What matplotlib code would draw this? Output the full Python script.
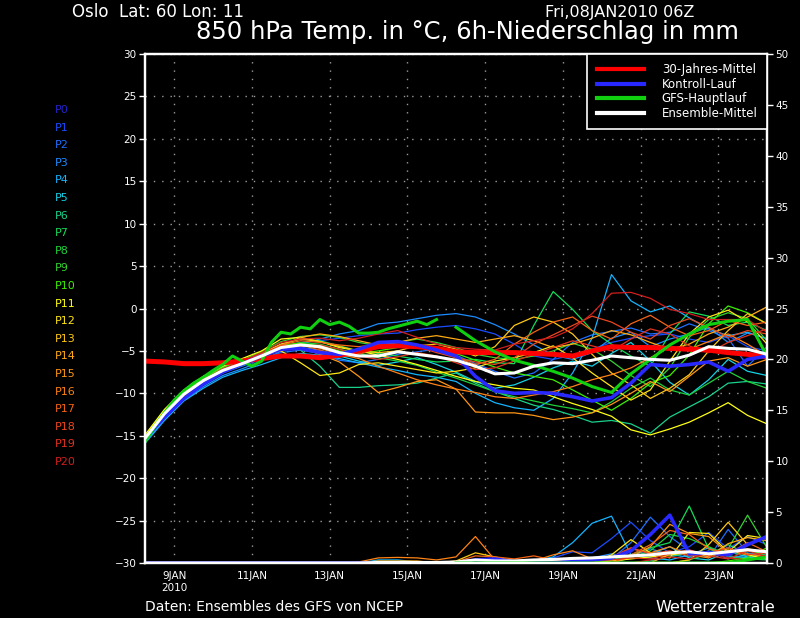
import matplotlib
matplotlib.use("Agg")
import matplotlib.pyplot as plt
from matplotlib.lines import Line2D
import pandas as pd

# time axes: ensemble every 12h, GFS main run 6h (hi-res) then 12h (lo-res)
times = pd.date_range("2010-01-08 06:00", "2010-01-24 06:00", freq="12h")
times_gfs_hi = pd.date_range("2010-01-08 06:00", "2010-01-15 18:00", freq="6h")
times_gfs_lo = pd.date_range("2010-01-16 06:00", "2010-01-24 06:00", freq="12h")

# 850 hPa temperature (deg C)
klima_t = [-6.2, -6.3, -6.5, -6.5, -6.4, -6.2, -5.9, -5.6, -5.6, -5.8, -5.5, -5.0, -4.5, -4.4, -4.5, -4.7, -5.1,
           -5.2, -5.2, -5.2, -5.3, -5.4, -5.6, -5.0, -4.5, -4.6, -4.6, -4.7, -4.8, -4.9, -5.2, -5.4, -5.7]
mittel_t = [-15.3, -12.4, -10.1, -8.5, -7.3, -6.5, -5.6, -4.6, -4.3, -4.5, -5.2, -5.6, -5.6, -5.1, -5.4, -5.7, -6.1,
            -6.8, -7.7, -7.6, -6.8, -6.4, -6.5, -6.1, -5.6, -5.8, -6.0, -6.1, -5.5, -4.5, -4.7, -4.8, -5.4]
gfs_t_hi = [-15.7, -13.9, -12.3, -10.8, -9.7, -8.8, -8.1, -7.3, -6.6, -5.6, -6.2, -6.8, -6.2, -4.0, -2.8, -3.0,
            -2.2, -2.4, -1.3, -1.9, -1.6, -2.1, -2.9, -2.9, -2.8, -2.4, -2.1, -1.8, -1.5, -1.9, -1.3]
gfs_t_lo = [-2.2, -3.8, -5.1, -6.1, -6.7, -7.4, -8.2, -9.2, -9.9, -7.7, -6.0, -4.3, -3.0, -1.9, -1.5, -1.3, -5.6]

t_p0 = [-15.3, -12.8, -10.6, -8.9, -7.5, -6.5, -5.6, -4.8, -4.7, -5.2, -5.4, -4.8, -4.0, -3.9, -4.3, -4.9, -5.6,
        -8.0, -9.7, -10.0, -9.9, -10.0, -10.4, -10.9, -10.5, -8.8, -6.6, -6.8, -6.6, -6.3, -7.4, -6.0, -5.6]
t_p1 = [-15.4, -12.6, -10.3, -8.6, -7.4, -6.5, -5.5, -4.6, -4.0, -3.8, -3.5, -3.2, -3.0, -2.9, -2.5, -2.2, -2.0,
        -2.4, -3.0, -4.2, -5.6, -6.0, -5.5, -4.8, -4.0, -3.5, -3.2, -3.0, -3.6, -4.0, -3.2, -4.5, -5.0]
t_p2 = [-15.6, -12.9, -10.6, -8.9, -7.6, -6.8, -6.0, -5.2, -4.9, -5.3, -6.1, -6.4, -6.0, -5.4, -5.1, -4.8, -5.5,
        -6.5, -7.4, -8.2, -7.6, -6.0, -4.0, -3.1, -2.7, -2.3, -3.0, -2.8, -1.8, -2.6, -3.5, -6.8, -4.5]
t_p3 = [-15.8, -13.0, -10.8, -9.2, -7.9, -7.1, -6.2, -5.0, -4.2, -3.6, -3.0, -2.6, -1.8, -1.6, -1.2, -0.8, -0.6,
        -1.0, -1.9, -3.0, -4.3, -5.5, -6.0, -5.2, -3.5, -2.8, -4.5, -3.6, -3.0, -2.2, -4.0, -2.9, -3.5]
t_p4 = [-15.9, -13.2, -10.9, -9.4, -8.1, -7.3, -6.6, -5.8, -5.3, -5.5, -5.9, -6.4, -6.9, -7.3, -7.8, -8.1, -8.6,
        -10.0, -11.1, -11.7, -12.0, -10.6, -7.6, -3.5, 4.0, 0.9, -0.4, 0.3, -1.1, -2.4, -3.2, -2.8, -3.6]
t_p5 = [-15.5, -12.6, -10.3, -8.7, -7.4, -6.6, -5.7, -4.9, -4.6, -4.9, -5.6, -6.2, -6.7, -6.3, -5.8, -6.6, -7.5,
        -8.6, -9.4, -9.0, -8.1, -7.0, -6.2, -6.8, -5.3, -4.0, -6.2, -8.7, -10.2, -8.4, -6.0, -7.4, -7.9]
t_p6 = [-15.2, -12.2, -9.9, -8.3, -7.1, -6.3, -5.4, -4.6, -4.9, -6.8, -9.3, -9.3, -9.1, -9.0, -8.8, -8.2, -7.6,
        -8.8, -9.8, -10.6, -11.4, -11.9, -12.6, -13.4, -13.2, -13.6, -14.7, -12.8, -11.6, -10.4, -8.8, -8.6, -8.9]
t_p7 = [-15.1, -12.1, -9.8, -8.2, -7.0, -6.2, -5.3, -4.2, -3.6, -3.8, -4.4, -5.0, -5.3, -5.6, -6.0, -6.3, -6.2,
        -6.0, -6.4, -6.5, -2.0, 2.0, -0.1, -2.6, -4.2, -5.6, -6.8, -3.0, -0.4, -0.9, -2.0, -1.6, -2.6]
t_p8 = [-15.3, -12.4, -10.1, -8.5, -7.3, -6.4, -5.5, -4.5, -4.0, -4.2, -4.8, -5.3, -5.8, -6.2, -6.7, -7.5, -8.2,
        -9.0, -9.8, -10.4, -10.9, -11.4, -11.8, -12.3, -11.0, -9.4, -8.2, -9.6, -10.2, -8.8, -7.4, -8.6, -9.4]
t_p9 = [-15.0, -12.0, -9.7, -8.1, -6.9, -6.1, -5.1, -3.9, -3.3, -3.1, -3.4, -4.0, -4.4, -4.0, -3.6, -4.0, -4.6,
        -5.4, -5.8, -6.0, -5.6, -5.0, -4.1, -4.8, -6.2, -7.9, -9.2, -7.0, -3.4, -1.3, -0.5, -1.2, -3.8]
t_p10 = [-15.1, -12.2, -9.9, -8.3, -7.0, -6.2, -5.2, -4.3, -4.1, -4.4, -5.0, -5.3, -5.0, -4.6, -4.3, -4.7, -5.3,
         -6.1, -6.9, -7.6, -8.0, -8.4, -9.6, -10.8, -12.0, -10.6, -8.8, -7.9, -5.5, -1.8, 0.3, -0.5, -1.8]
t_p11 = [-14.9, -11.9, -9.6, -8.0, -6.8, -5.9, -5.0, -3.6, -3.4, -3.9, -4.6, -5.0, -5.5, -6.0, -6.6, -7.3, -8.0,
         -8.6, -9.0, -9.4, -9.6, -10.4, -11.2, -11.9, -12.7, -14.3, -14.9, -14.2, -13.4, -12.3, -11.1, -12.6, -13.6]
t_p12 = [-15.2, -12.3, -10.0, -8.4, -7.2, -6.3, -5.4, -5.0, -6.4, -7.9, -7.6, -6.6, -6.4, -6.8, -7.2, -7.6, -7.4,
         -7.0, -6.2, -5.8, -5.2, -4.4, -5.8, -7.6, -9.2, -10.8, -9.6, -6.2, -3.0, -1.0, -0.2, -1.6, -4.2]
t_p13 = [-15.4, -12.5, -10.2, -8.6, -7.3, -6.4, -5.3, -4.2, -3.6, -3.9, -4.5, -5.0, -5.2, -5.0, -4.4, -4.2, -4.8,
         -5.6, -4.5, -2.0, -1.0, -1.6, -3.0, -5.4, -7.6, -9.0, -10.6, -9.4, -7.8, -5.0, -2.6, -0.6, -1.8]
t_p14 = [-15.6, -12.8, -10.4, -8.8, -7.5, -6.6, -5.6, -4.4, -3.4, -3.0, -3.3, -3.8, -4.3, -4.0, -3.5, -3.2, -3.6,
         -4.0, -3.6, -3.2, -3.8, -4.6, -4.2, -3.5, -2.6, -3.1, -4.0, -4.8, -4.2, -3.0, -2.2, -1.0, 0.2]
t_p15 = [-15.5, -12.7, -10.3, -8.7, -7.4, -6.6, -5.7, -4.9, -4.6, -5.4, -6.3, -8.0, -9.9, -9.3, -8.6, -8.4, -9.5,
         -12.2, -12.3, -12.3, -12.6, -13.1, -12.8, -12.3, -11.3, -10.0, -8.6, -9.8, -8.0, -6.2, -5.8, -6.8, -6.0]
t_p16 = [-15.3, -12.5, -10.2, -8.6, -7.4, -6.5, -5.6, -4.5, -4.2, -4.7, -5.4, -5.9, -6.8, -7.6, -8.4, -9.0, -9.5,
         -9.9, -10.4, -10.6, -10.2, -9.8, -9.2, -8.4, -7.8, -7.0, -5.8, -4.5, -4.8, -3.9, -3.0, -4.2, -5.6]
t_p17 = [-15.5, -12.6, -10.3, -8.7, -7.4, -6.5, -5.5, -4.3, -3.8, -4.0, -4.3, -4.5, -4.2, -3.9, -4.4, -5.0, -5.8,
         -6.6, -6.0, -4.2, -2.8, -1.6, -1.0, -2.6, -3.6, -1.8, -0.8, -2.2, -3.2, -2.6, -1.4, -2.0, -1.6]
t_p18 = [-15.2, -12.3, -10.0, -8.4, -7.2, -6.3, -5.3, -4.4, -4.3, -4.9, -5.7, -5.4, -4.6, -4.2, -4.5, -5.2, -5.8,
         -6.3, -6.6, -5.8, -4.2, -3.1, -2.0, -0.9, -1.6, -2.8, -3.6, -2.0, -1.2, -2.2, -3.4, -2.6, -3.0]
t_p19 = [-15.4, -12.4, -10.1, -8.5, -7.2, -6.4, -5.6, -4.8, -4.5, -4.3, -4.8, -5.6, -6.0, -5.7, -5.2, -5.6, -6.4,
         -7.2, -7.0, -6.2, -5.4, -4.6, -3.8, -4.4, -5.0, -3.6, -2.4, -3.0, -4.4, -5.2, -4.0, -3.2, -2.4]
t_p20 = [-15.3, -12.3, -10.0, -8.4, -7.1, -6.2, -5.2, -4.0, -3.6, -3.5, -3.8, -3.5, -3.0, -2.6, -3.4, -4.2, -4.6,
         -4.8, -4.9, -4.2, -3.8, -3.4, -2.4, -0.6, 1.8, 1.9, 1.2, -0.1, -0.6, -1.3, -1.3, -1.3, -2.8]

# 6h precipitation (mm)
pr_p0 = [0, 0, 0, 0, 0, 0, 0, 0, 0, 0, 0, 0, 0, 0, 0, 0, 0,
         0.3, 0.4, 0.1, 0, 0, 0.2, 0.3, 0.5, 1.2, 2.8, 4.7, 0.9, 1.0, 0.8, 1.8, 2.6]
pr_p1 = [0, 0, 0, 0, 0, 0, 0, 0, 0, 0, 0, 0, 0, 0, 0, 0, 0,
         0, 0, 0, 0, 0.5, 1.1, 1.0, 2.4, 4.0, 2.2, 1.0, 1.6, 3.0, 1.4, 2.6, 1.8]
pr_p2 = [0, 0, 0, 0, 0, 0, 0, 0, 0, 0, 0, 0, 0, 0, 0, 0, 0,
         0, 0, 0, 0, 0, 0, 0, 0.4, 2.0, 4.5, 2.6, 1.2, 0.5, 3.3, 1.0, 0.6]
pr_p3 = [0, 0, 0, 0, 0, 0, 0, 0, 0, 0, 0, 0, 0, 0, 0, 0, 0,
         0, 0, 0, 0, 0, 0.2, 0.5, 0.9, 0.6, 1.4, 0.8, 0.6, 1.2, 0.4, 0.8, 1.2]
pr_p4 = [0, 0, 0, 0, 0, 0, 0, 0, 0, 0, 0, 0, 0.3, 0.3, 0.1, 0, 0,
         0, 0, 0, 0.2, 0.6, 2.0, 3.9, 4.6, 0.8, 0.5, 0.3, 0.8, 1.5, 0.7, 0.5, 0.9]
pr_p5 = [0, 0, 0, 0, 0, 0, 0, 0, 0, 0, 0, 0, 0, 0, 0, 0, 0,
         0, 0, 0, 0, 0, 0, 0, 0.3, 0.6, 0.9, 1.6, 0.5, 0.3, 1.1, 0.6, 0.4]
pr_p6 = [0, 0, 0, 0, 0, 0, 0, 0, 0, 0, 0, 0, 0, 0, 0, 0, 0,
         0, 0, 0, 0, 0, 0, 0, 0, 0, 0.2, 0.6, 1.0, 0.8, 1.8, 0.9, 0.5]
pr_p7 = [0, 0, 0, 0, 0, 0, 0, 0, 0, 0, 0, 0, 0, 0, 0, 0, 0,
         0, 0, 0, 0, 0, 0, 0, 0.3, 0.8, 1.5, 2.0, 5.6, 1.4, 0.6, 0.4, 0.3]
pr_p8 = [0, 0, 0, 0, 0, 0, 0, 0, 0, 0, 0, 0, 0, 0, 0, 0, 0,
         0, 0, 0, 0, 0, 0, 0, 0, 0.5, 1.2, 2.8, 2.4, 1.6, 0.8, 1.3, 0.7]
pr_p9 = [0, 0, 0, 0, 0, 0, 0, 0, 0, 0, 0, 0, 0, 0, 0, 0, 0,
         0, 0, 0, 0, 0, 0, 0, 0, 0, 0, 0, 0.3, 0.9, 1.4, 4.7, 1.5]
pr_p10 = [0, 0, 0, 0, 0, 0, 0, 0, 0, 0, 0, 0, 0, 0, 0, 0, 0,
          0, 0, 0, 0, 0, 0, 0, 0, 0, 0, 0, 0, 0, 0.2, 0.5, 1.5]
pr_p11 = [0, 0, 0, 0, 0, 0, 0, 0, 0, 0, 0, 0, 0, 0, 0, 0, 0,
          0, 0, 0, 0, 0, 0, 0, 0.2, 0.4, 0.6, 0.8, 1.0, 0.7, 1.2, 0.8, 0.4]
pr_p12 = [0, 0, 0, 0, 0, 0, 0, 0, 0, 0, 0, 0, 0, 0, 0, 0, 0,
          0, 0, 0, 0, 0, 0, 0, 0.8, 2.3, 1.0, 0.5, 3.0, 2.9, 1.1, 2.7, 2.4]
pr_p13 = [0, 0, 0, 0, 0, 0, 0, 0, 0, 0, 0, 0, 0, 0, 0, 0, 0.2,
          1.0, 0.6, 0.2, 0, 0, 0, 0, 0, 0, 0, 0, 0.3, 1.8, 4.0, 1.8, 2.6]
pr_p14 = [0, 0, 0, 0, 0, 0, 0, 0, 0, 0, 0, 0, 0.2, 0.2, 0.2, 0, 0,
          0, 0, 0, 0, 0, 0, 0, 0, 0, 0, 0.9, 1.2, 0.6, 1.9, 2.5, 2.2]
pr_p15 = [0, 0, 0, 0, 0, 0, 0, 0, 0, 0, 0, 0, 0, 0, 0, 0, 0,
          0, 0, 0, 0, 0, 0, 0, 0, 0.6, 1.6, 3.8, 2.9, 2.6, 1.0, 1.4, 1.0]
pr_p16 = [0, 0, 0, 0, 0, 0, 0, 0, 0, 0, 0, 0.1, 0.5, 0.55, 0.5, 0.3, 0.6,
          2.6, 0.3, 0.2, 0.2, 0.8, 1.2, 0.4, 0.5, 1.4, 1.0, 1.6, 0.8, 0.5, 1.3, 0.9, 0.6]
pr_p17 = [0, 0, 0, 0, 0, 0, 0, 0, 0, 0, 0, 0, 0, 0, 0, 0, 0.1,
          0.7, 0.6, 0.4, 0.7, 0.3, 0, 0, 0, 0.8, 1.8, 3.2, 2.8, 1.4, 0.9, 2.0, 1.1]
pr_p18 = [0, 0, 0, 0, 0, 0, 0, 0, 0, 0, 0, 0, 0, 0, 0, 0, 0,
          0, 0, 0, 0, 0.2, 0.5, 0.3, 0.6, 1.5, 0.9, 1.2, 0.7, 0.9, 1.5, 0.8, 1.0]
pr_p19 = [0, 0, 0, 0, 0, 0, 0, 0, 0, 0, 0, 0, 0, 0, 0, 0, 0,
          0, 0, 0, 0, 0, 0, 0.2, 0.3, 0.5, 0.4, 0.9, 1.3, 0.7, 0.4, 1.2, 0.6]
pr_p20 = [0, 0, 0, 0, 0, 0, 0, 0, 0, 0, 0, 0, 0, 0, 0, 0, 0,
          0, 0, 0, 0, 0, 0, 0, 0, 0, 0.3, 0.6, 0.4, 1.0, 0.5, 0.3, 0.8]
pr_mittel = [0, 0, 0, 0, 0, 0, 0, 0, 0, 0, 0, 0, 0.05, 0.05, 0.05, 0.05, 0.1,
             0.3, 0.2, 0.2, 0.3, 0.35, 0.45, 0.5, 0.6, 0.7, 0.8, 1.0, 1.1, 0.9, 1.1, 1.3, 1.1]
pr_gfs_lo = [0, 0, 0, 0, 0, 0, 0, 0, 0, 0, 0, 0, 0, 0, 0, 0.3, 0.6]

member_names = ["P%d" % k for k in range(21)]
member_colors = ["#2424d0", "#1a4cff", "#1e6eff", "#1c8cff", "#14b4ff", "#14d2e6", "#18d28c",
                 "#14dc5a", "#1ed23c", "#32d232", "#3cf000", "#ffff14", "#ffe614", "#ffc814",
                 "#ffaa14", "#ff9614", "#ff8214", "#f56414", "#eb461e", "#e1321e", "#d21e1e"]

members_t = [t_p0, t_p1, t_p2, t_p3, t_p4, t_p5, t_p6, t_p7, t_p8, t_p9, t_p10,
             t_p11, t_p12, t_p13, t_p14, t_p15, t_p16, t_p17, t_p18, t_p19, t_p20]
members_pr = [pr_p0, pr_p1, pr_p2, pr_p3, pr_p4, pr_p5, pr_p6, pr_p7, pr_p8, pr_p9, pr_p10,
              pr_p11, pr_p12, pr_p13, pr_p14, pr_p15, pr_p16, pr_p17, pr_p18, pr_p19, pr_p20]
kontroll_t = t_p0
kontroll_pr = pr_p0

tick_days = pd.to_datetime(["2010-01-09", "2010-01-11", "2010-01-13", "2010-01-15",
                            "2010-01-17", "2010-01-19", "2010-01-21", "2010-01-23"])
tick_labels = ["9JAN\n2010", "11JAN", "13JAN", "15JAN", "17JAN", "19JAN", "21JAN", "23JAN"]

RED = "#ff0000"
BLUE = "#2828ff"
GREEN = "#10d010"

fig = plt.figure(figsize=(8, 6.18), dpi=100, facecolor="black")
ax = fig.add_axes([0.18125, 0.089, 0.7775, 0.8236])
ax.set_facecolor("black")
ax2 = ax.twinx()

# temperature spaghetti
for k in range(21):
    ax.plot(times, members_t[k], color=member_colors[k], lw=0.9)
ax.plot(times, klima_t, color=RED, lw=3.6)
ax.plot(times, kontroll_t, color=BLUE, lw=2.6)
ax.plot(times_gfs_hi, gfs_t_hi, color=GREEN, lw=2.2)
ax.plot(times_gfs_lo, gfs_t_lo, color=GREEN, lw=2.2)
ax.plot(times, mittel_t, color="white", lw=2.2)

# precipitation on right axis
for k in range(21):
    ax2.plot(times, members_pr[k], color=member_colors[k], lw=0.9)
ax2.plot(times, kontroll_pr, color=BLUE, lw=2.6)
ax2.plot(times, pr_mittel, color="white", lw=2.2)
ax2.plot(times_gfs_lo, pr_gfs_lo, color=GREEN, lw=2.2)

ax.set_xlim(pd.Timestamp("2010-01-08 06:00"), pd.Timestamp("2010-01-24 06:00"))
ax.set_ylim(-30, 30)
ax2.set_ylim(0, 50)
ax.set_yticks(range(-30, 31, 5))
ax2.set_yticks(range(0, 51, 5))
ax.set_xticks(tick_days)
ax.set_xticklabels(tick_labels)

ax.grid(True, color="#9a9a9a", linestyle=(0, (1.0, 5.0)), lw=1.0)
ax.set_axisbelow(True)
ax.tick_params(axis="y", colors="white", labelsize=7.5, length=4, width=1, pad=2)
ax.tick_params(axis="x", colors="white", labelsize=7.5, length=0, pad=6)
ax2.tick_params(axis="y", colors="white", labelsize=7.5, length=4, width=1, pad=2)
for a in (ax, ax2):
    for s in a.spines.values():
        s.set_color("white")
        s.set_linewidth(1.6)

handles = [Line2D([], [], color=RED, lw=3), Line2D([], [], color=BLUE, lw=3),
           Line2D([], [], color=GREEN, lw=3), Line2D([], [], color="white", lw=3)]
labels = ["30-Jahres-Mittel", "Kontroll-Lauf", "GFS-Hauptlauf", "Ensemble-Mittel"]
leg = ax2.legend(handles, labels, loc="upper right", bbox_to_anchor=(1, 1), borderaxespad=0,
                 frameon=True, facecolor="black", edgecolor="white", framealpha=1, fancybox=False,
                 fontsize=8.5, labelcolor="white", handlelength=4.0, handletextpad=1.5,
                 labelspacing=0.12, borderpad=0.8)
leg.get_frame().set_linewidth(1.2)

# member labels on the left
for k in range(21):
    fig.text(55 / 800, 1 - (110 + 17.6 * k) / 618, member_names[k], color=member_colors[k],
             fontsize=8, va="center", ha="left")

fig.text(72 / 800, 1 - 12 / 618, "Oslo  Lat: 60 Lon: 11", color="white", fontsize=12, va="center")
fig.text(545 / 800, 1 - 12 / 618, "Fri,08JAN2010 06Z", color="white", fontsize=11.5, va="center")
fig.text(467 / 800, 1 - 32 / 618, "850 hPa Temp. in °C, 6h-Niederschlag in mm", color="white",
         fontsize=17.5, va="center", ha="center")
fig.text(145 / 800, 1 - 607 / 618, "Daten: Ensembles des GFS von NCEP", color="white", fontsize=10,
         va="center", ha="left")
fig.text(775 / 800, 1 - 607 / 618, "Wetterzentrale", color="white", fontsize=11.5, va="center", ha="right")

fig.savefig("out.png", dpi=100, facecolor="black")
